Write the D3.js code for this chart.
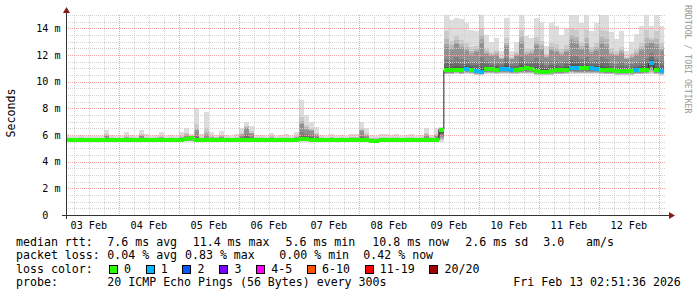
<!DOCTYPE html>
<html>
<head>
<meta charset="utf-8">
<script src="https://cdn.jsdelivr.net/npm/d3@7"></script>
<style>
    body { margin: 0; background: #fff; }
    text { font-family: "DejaVu Sans Mono", monospace; white-space: pre; }
</style>
</head>
<body>
<svg id="chart"></svg>
<script>
(function() {
    'use strict';

    // 2 hour buckets, the first one starts Feb 3 02:00 UTC
    var bucketStart = Date.UTC(2026, 1, 3, 2, 0, 0);
    var bucketMs = 2 * 3600 * 1000;

    // median rtt per bucket (ms)
    var median = [
        5.62, 5.62, 5.6, 5.62, 5.62, 5.63, 5.62, 5.6, 5.62, 5.63,
        5.62, 5.62, 5.6, 5.62, 5.62, 5.63, 5.62, 5.62, 5.62, 5.6,
        5.62, 5.62, 5.63, 5.62, 5.72, 5.78, 5.62, 5.6, 5.62, 5.63,
        5.62, 5.62, 5.6, 5.62, 5.62, 5.64, 5.66, 5.62, 5.62, 5.6,
        5.62, 5.62, 5.63, 5.62, 5.62, 5.6, 5.62, 5.7, 5.68, 5.66,
        5.64, 5.62, 5.62, 5.6, 5.62, 5.62, 5.63, 5.62, 5.62, 5.62,
        5.6, 5.52, 5.55, 5.62, 5.62, 5.63, 5.62, 5.6, 5.62, 5.62,
        5.62, 5.6, 5.62, 5.63, 5.62, 6.4,
        10.85, 10.85, 10.9, 10.85, 10.95, 10.9, 10.8, 10.75, 10.95, 10.95,
        10.9, 10.95, 10.95, 10.9, 10.9, 10.95, 11.0, 10.95, 10.8, 10.75,
        10.75, 10.8, 10.85, 10.85, 10.9, 11.05, 11.0, 11.0, 11.0, 11.0,
        10.95, 10.9, 10.85, 10.85, 10.8, 10.8, 10.8, 10.8, 10.85, 10.85,
        10.9, 11.4, 10.85, 10.8
    ];

    // index into lossColors per bucket
    var lossBucket = [
        0, 0, 0, 0, 0, 0, 0, 0, 0, 0, 0, 0, 0, 0, 0, 0, 0, 0, 0, 0,
        0, 0, 0, 0, 0, 0, 0, 0, 0, 0, 0, 0, 0, 0, 0, 0, 0, 0, 0, 0,
        0, 0, 0, 0, 0, 0, 0, 0, 0, 0, 0, 0, 0, 0, 0, 0, 0, 0, 0, 0,
        0, 0, 0, 0, 0, 0, 0, 0, 0, 0, 0, 0, 0, 0, 0, 0,
        0, 0, 0, 0, 1, 0, 1, 1, 0, 0,
        0, 1, 1, 1, 0, 0, 0, 0, 0, 0,
        0, 0, 0, 0, 0, 1, 1, 0, 0, 1,
        1, 0, 0, 0, 0, 0, 0, 0, 1, 0,
        0, 1, 0, 1
    ];

    // fastest ping per bucket
    var pingMin = [
        5.45, 5.45, 5.45, 5.45, 5.45, 5.45, 5.45, 5.45, 5.45, 5.45,
        5.45, 5.45, 5.45, 5.45, 5.45, 5.45, 5.45, 5.45, 5.45, 5.45,
        5.45, 5.45, 5.45, 5.45, 5.5, 5.5, 5.45, 5.45, 5.45, 5.45,
        5.45, 5.45, 5.45, 5.45, 5.45, 5.45, 5.45, 5.45, 5.45, 5.45,
        5.45, 5.45, 5.45, 5.45, 5.45, 5.45, 5.45, 5.5, 5.5, 5.5,
        5.45, 5.45, 5.45, 5.45, 5.45, 5.45, 5.45, 5.45, 5.45, 5.45,
        5.45, 5.4, 5.4, 5.45, 5.45, 5.45, 5.45, 5.45, 5.45, 5.45,
        5.45, 5.45, 5.45, 5.45, 5.45, 5.5,
        10.55, 10.55, 10.6, 10.55, 10.6, 10.55, 10.5, 10.5, 10.6, 10.6,
        10.55, 10.6, 10.6, 10.55, 10.55, 10.6, 10.6, 10.6, 10.5, 10.5,
        10.5, 10.5, 10.55, 10.55, 10.55, 10.6, 10.6, 10.6, 10.6, 10.6,
        10.6, 10.55, 10.55, 10.55, 10.5, 10.5, 10.5, 10.5, 10.55, 10.55,
        10.55, 10.6, 10.55, 10.5
    ];

    // roughly the 15th of 20 pings
    var pingMid = [
        5.75, 5.72, 5.72, 5.74, 5.72, 5.72, 5.73, 5.72, 5.9, 5.74,
        5.72, 5.72, 5.8, 5.74, 5.72, 5.9, 5.76, 5.72, 5.74, 5.8,
        5.72, 5.74, 5.72, 5.8, 5.95, 5.85, 6.3, 5.76, 6.0, 5.8,
        5.74, 5.82, 5.74, 5.72, 5.76, 6.0, 6.5, 6.1, 5.74, 5.74,
        5.72, 5.8, 5.72, 5.74, 5.76, 5.72, 5.8, 6.8, 6.4, 6.3,
        6.0, 5.74, 5.72, 5.78, 5.72, 5.74, 5.72, 5.78, 5.78, 6.3,
        5.95, 5.72, 5.72, 5.76, 5.76, 5.74, 5.76, 5.72, 5.74, 5.76,
        5.72, 5.74, 5.95, 5.74, 5.9, 6.5,
        12.6, 12.4, 12.8, 12.5, 12.3, 12.0, 12.2, 13.0, 12.1, 11.9,
        12.0, 11.7, 12.6, 11.7, 11.9, 12.8, 12.0, 12.1, 12.7, 12.4,
        11.8, 12.3, 12.2, 12.0, 12.2, 13.0, 12.8, 12.4, 12.7, 12.1,
        12.3, 12.8, 12.6, 12.0, 11.9, 12.1, 11.7, 11.8, 12.0, 12.3,
        12.7, 12.9, 12.6, 12.3
    ];

    // slowest ping per bucket
    var pingMax = [
        6.05, 5.95, 5.9, 6.0, 5.95, 5.9, 5.95, 5.95, 6.4, 6.0,
        5.95, 5.9, 6.25, 6.0, 5.95, 6.4, 6.1, 5.95, 6.0, 6.2,
        5.95, 6.0, 5.9, 6.2, 6.55, 6.1, 8.0, 6.05, 7.75, 6.25,
        6.0, 6.3, 6.0, 5.95, 6.05, 6.5, 7.0, 6.65, 6.0, 6.0,
        5.95, 6.15, 5.95, 6.0, 6.05, 5.95, 6.2, 8.6, 7.5, 7.0,
        6.6, 6.0, 5.95, 6.1, 5.95, 6.0, 5.95, 6.1, 6.1, 7.0,
        6.5, 6.0, 5.95, 6.05, 6.05, 6.0, 6.05, 5.95, 6.0, 6.05,
        5.95, 6.0, 6.55, 6.0, 6.5, 6.6,
        16.5, 14.6, 14.8, 14.7, 14.4, 13.9, 13.8, 16.5, 13.5, 13.0,
        13.3, 12.3, 14.8, 12.3, 13.0, 16.5, 13.4, 13.3, 14.8, 14.5,
        12.7, 14.4, 14.2, 13.5, 14.0, 16.5, 16.5, 14.4, 16.5, 13.8,
        14.4, 16.5, 16.5, 13.7, 13.2, 13.8, 12.3, 13.0, 13.6, 14.2,
        16.5, 14.2, 16.5, 14.2
    ];

    var lossLabels = ['0', '1', '2', '3', '4-5', '6-10', '11-19', '20/20'];
    var lossColors = ['#26ff00', '#00b8ff', '#0059ff', '#7e00ff', '#ff00ff', '#ff5500', '#ff0000', '#a10000'];

    var dayLabels = ['03 Feb', '04 Feb', '05 Feb', '06 Feb', '07 Feb', '08 Feb', '09 Feb', '10 Feb', '11 Feb', '12 Feb'];
    var yTicks = [0, 2, 4, 6, 8, 10, 12, 14];
    var yTickLabels = ['0  ', '2 m', '4 m', '6 m', '8 m', '10 m', '12 m', '14 m'];

    var rttLegend = ['median rtt:', '7.6 ms avg', '11.4 ms max', '5.6 ms min', '10.8 ms now', '2.6 ms sd', '3.0', 'am/s'];
    var lossLegend = ['packet loss:', '0.04 % avg', '0.83 % max', '0.00 % min', '0.42 % now'];
    var probeLegend = ['probe:', '20 ICMP Echo Pings (56 Bytes) every 300s'];
    var stamp = 'Fri Feb 13 02:51:36 2026';

    var width = 697;
    var height = 297;
    var left = 66, right = 666, top = 15, bottom = 215;

    var chart = d3.select('#chart')
        .attr('width', width)
        .attr('height', height);

    chart.append('rect')
        .attr('width', width)
        .attr('height', height)
        .attr('fill', '#fff');

    var x = d3.scaleUtc()
        .domain([new Date(Date.UTC(2026, 1, 3, 2, 51, 36)), new Date(Date.UTC(2026, 1, 13, 2, 51, 36))])
        .range([left, right]);
    var y = d3.scaleLinear().domain([0, 15]).range([bottom, top]);

    chart.append('clipPath').attr('id', 'plot')
        .append('rect')
        .attr('x', left).attr('y', top)
        .attr('width', right - left).attr('height', bottom - top);

    var buckets = median.map(function(m, i) {
        return {
            t0: new Date(bucketStart + i * bucketMs),
            t1: new Date(bucketStart + (i + 1) * bucketMs),
            med: m, lo: pingMin[i], mid: pingMid[i], hi: pingMax[i], loss: lossBucket[i]
        };
    });

    // smoke: 10 nested bands, light outside, dark close to the median
    var upFrac = [1, 0.3, 0.15, 0.06, 0];
    var innerFrac = [0.5, 0.3, 0.16, 0.07, 0.02];
    var smoke = chart.append('g').attr('clip-path', 'url(#plot)').attr('shape-rendering', 'crispEdges');
    d3.range(1, 11).forEach(function(i) {
        var grey = Math.floor(190 / 10 * (10 - i)) + 50;
        smoke.append('g')
            .attr('fill', d3.rgb(grey, grey, grey))
            .selectAll('rect')
            .data(buckets)
            .enter()
            .append('rect')
            .attr('x', function(d) { return x(d.t0); })
            .attr('width', function(d) { return x(d.t1) - x(d.t0); })
            .attr('y', function(d) { return y(upper(d, i)); })
            .attr('height', function(d) {
                var lower = d.lo + (d.med - d.lo) * (i - 1) / 10;
                return Math.max(0, y(lower) - y(upper(d, i)));
            });
    });

    function upper(d, i) {
        if (i <= 5) return d.mid + (d.hi - d.mid) * upFrac[i - 1];
        return d.med + (d.mid - d.med) * innerFrac[i - 6];
    }

    // grid
    var grid = chart.append('g').attr('shape-rendering', 'crispEdges').attr('stroke-dasharray', '1,1');
    var hours = d3.utcHour.every(6).range(x.domain()[0], x.domain()[1]);
    grid.selectAll('line.vx')
        .data(hours)
        .enter()
        .append('line')
        .attr('x1', function(d) { return Math.round(x(d)) + 0.5; })
        .attr('x2', function(d) { return Math.round(x(d)) + 0.5; })
        .attr('y1', top).attr('y2', bottom)
        .attr('stroke', function(d) { return d.getUTCHours() === 0 ? '#f2a4a4' : '#d2d2d2'; });

    var ySteps = d3.range(0.5, 15.01, 0.5);
    grid.selectAll('line.hy')
        .data(ySteps)
        .enter()
        .append('line')
        .attr('x1', left).attr('x2', right)
        .attr('y1', function(d) { return Math.round(y(d)) + 0.5; })
        .attr('y2', function(d) { return Math.round(y(d)) + 0.5; })
        .attr('stroke', function(d) { return d % 2 === 0 ? '#f2a4a4' : '#d2d2d2'; });

    // median: dark line then loss coloured band
    var medLine = d3.line()
        .x(function(d) { return x(d.t); })
        .y(function(d) { return y(d.v); })
        .curve(d3.curveStepAfter);
    var medPts = buckets.map(function(d) { return { t: d.t0, v: d.med }; });
    medPts.push({ t: buckets[buckets.length - 1].t1, v: median[median.length - 1] });

    var medG = chart.append('g').attr('clip-path', 'url(#plot)');
    medG.append('path')
        .attr('d', medLine(medPts))
        .attr('fill', 'none')
        .attr('stroke', '#202020')
        .attr('stroke-width', 1);

    medG.selectAll('rect')
        .data(buckets)
        .enter()
        .append('rect')
        .attr('shape-rendering', 'crispEdges')
        .attr('x', function(d) { return x(d.t0); })
        .attr('width', function(d) { return x(d.t1) - x(d.t0); })
        .attr('y', function(d) { return Math.round(y(d.med)) - 2; })
        .attr('height', 4)
        .attr('fill', function(d) { return lossColors[d.loss]; });

    // axes
    var axis = chart.append('g').attr('shape-rendering', 'crispEdges');
    axis.append('line')
        .attr('x1', 62).attr('x2', 670)
        .attr('y1', bottom + 0.5).attr('y2', bottom + 0.5)
        .attr('stroke', '#333');
    axis.append('line')
        .attr('x1', left + 0.5).attr('x2', left + 0.5)
        .attr('y1', bottom + 4).attr('y2', 11)
        .attr('stroke', '#333');
    chart.append('path')
        .attr('d', 'M63,13L70,13L66.5,7Z')
        .attr('fill', '#8b1a1a');
    chart.append('path')
        .attr('d', 'M669,212L669,219L675,215.5Z')
        .attr('fill', '#8b1a1a');

    chart.append('g')
        .selectAll('text')
        .data(yTicks)
        .enter()
        .append('text')
        .attr('x', 60.5)
        .attr('y', function(d) { return y(d) + 3.7; })
        .attr('text-anchor', 'end')
        .attr('font-size', '10.1px')
        .attr('fill', '#000')
        .text(function(d, i) { return yTickLabels[i]; });

    chart.append('g')
        .selectAll('text')
        .data(dayLabels)
        .enter()
        .append('text')
        .attr('x', function(d, i) { return x(new Date(Date.UTC(2026, 1, 3 + i, 12))); })
        .attr('y', 228.5)
        .attr('text-anchor', 'middle')
        .attr('font-size', '10.1px')
        .attr('fill', '#000')
        .text(function(d) { return d; });

    chart.append('text')
        .attr('transform', 'translate(15,113) rotate(-90)')
        .attr('text-anchor', 'middle')
        .attr('font-size', '11.6px')
        .text('Seconds');

    chart.append('text')
        .attr('transform', 'translate(685,5) rotate(90)')
        .attr('font-size', '8.2px')
        .attr('fill', '#999')
        .text('RRDTOOL / TOBI OETIKER');

    // legend
    var legend = chart.append('g').attr('font-size', '11.6px').attr('fill', '#000');
    var rttX = [16, 107.3, 192.7, 285.5, 372.3, 465.3, 543.3, 586];
    var lossX = [16, 107.3, 185, 279.3, 363.3];

    legend.selectAll('text.rtt')
        .data(rttLegend)
        .enter()
        .append('text')
        .attr('x', function(d, i) { return rttX[i]; })
        .attr('y', 245.7)
        .text(function(d) { return d; });

    legend.selectAll('text.loss')
        .data(lossLegend)
        .enter()
        .append('text')
        .attr('x', function(d, i) { return lossX[i]; })
        .attr('y', 259.2)
        .text(function(d) { return d; });

    legend.append('text').attr('x', 16).attr('y', 272.7).text('loss color:');
    var bx = 108.7;
    lossLabels.forEach(function(lbl, i) {
        legend.append('rect')
            .attr('x', Math.round(bx) + 0.5).attr('y', 265.5)
            .attr('width', 8).attr('height', 8)
            .attr('fill', lossColors[i])
            .attr('stroke', '#000')
            .attr('shape-rendering', 'crispEdges');
        legend.append('text').attr('x', bx + 15.3).attr('y', 272.7).text(lbl);
        bx = bx + 15.3 + lbl.length * 7 + 14.5;
    });

    legend.append('text').attr('x', 16).attr('y', 286.2).text(probeLegend[0]);
    legend.append('text').attr('x', 107.3).attr('y', 286.2).text(probeLegend[1]);
    legend.append('text').attr('x', 513.3).attr('y', 286.2).text(stamp);
})();
</script>
</body>
</html>
